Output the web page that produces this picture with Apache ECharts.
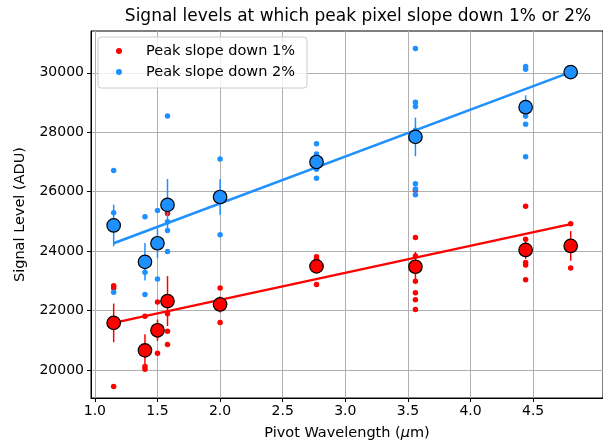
<!DOCTYPE html>
<html>
<head>
<meta charset="utf-8">
<script src="https://cdn.jsdelivr.net/npm/echarts@6/dist/echarts.min.js"></script>
<style>
  html, body { margin: 0; padding: 0; background: #fff; }
  #chart { width: 603px; height: 446px; }
</style>
</head>
<body>
<div id="chart"></div>
<script>
// Pivot wavelengths of the filters (µm)
const wavelengths = [1.15, 1.40, 1.50, 1.58, 2.00, 2.77, 3.56, 4.44, 4.80];

// Individual signal levels (ADU) where the peak pixel slope is down 1%
const down1Samples = [
  [22840, 22760, 19450],
  [21810, 20120, 20030],
  [22290, 21170, 20567],
  [25267, 21900, 21310, 20867],
  [22767, 22240, 21600],
  [23810, 23733, 22877],
  [26050, 24457, 23843, 22990, 22600, 22367, 22043],
  [25510, 24400, 23623, 23533, 23043],
  [24923, 23433]
];
const down1Mean = [21590, 20667, 21343, 22323, 22210, 23490, 23477, 24043, 24177];
const down1Err  = [650, 540, 360, 840, 270, 200, 500, 300, 500];

// Individual signal levels (ADU) where the peak pixel slope is down 2%
const down2Samples = [
  [26710, 25290, 22620],
  [25157, 23290, 22543],
  [25367, 24370, 23067],
  [28543, 24990, 24700, 23990],
  [27100, 25830, 24557],
  [27610, 27267, 26757, 26457],
  [30820, 29010, 28870, 28070, 26270, 26090, 25900],
  [30210, 30120, 28543, 28267, 27177],
  [30023]
];
const down2Mean = [24867, 23643, 24267, 25557, 25823, 27000, 27843, 28843, 30023];
const down2Err  = [700, 630, 500, 870, 600, 150, 650, 400, 0];

// Linear fits, evaluated at the first and last wavelength
const fitX  = [1.15, 4.80];
const fit1Y = [21590, 24910];
const fit2Y = [24267, 30023];

// Tick values
const xTicks = [1.0, 1.5, 2.0, 2.5, 3.0, 3.5, 4.0, 4.5];
const yTicks = [20000, 22000, 24000, 26000, 28000, 30000];

const RED = '#ff0000';
const BLUE = '#1e90ff';
const FONT = 'DejaVu Sans';

function samplePairs(samples) {
  const out = [];
  samples.forEach((vals, i) => vals.forEach(v => out.push([wavelengths[i], v])));
  return out;
}
function meanPairs(means, errs) {
  return means.map((m, i) => [wavelengths[i], m, errs[i]]);
}
function errorBarSeries(means, errs, color, z) {
  return {
    type: 'custom',
    z: z,
    data: meanPairs(means, errs),
    renderItem: function (params, api) {
      const x = api.value(0), m = api.value(1), e = api.value(2);
      const p1 = api.coord([x, m - e]);
      const p2 = api.coord([x, m + e]);
      return {
        type: 'line',
        shape: { x1: p1[0], y1: p1[1], x2: p2[0], y2: p2[1] },
        style: { stroke: color, lineWidth: 1.5 }
      };
    }
  };
}

const chart = echarts.init(document.getElementById('chart'), null, { renderer: 'canvas' });

chart.setOption({
  animation: false,
  backgroundColor: '#ffffff',
  grid: {
    left: 91, top: 31, width: 528, height: 369,
    show: true, borderColor: '#000', borderWidth: 1, backgroundColor: 'transparent'
  },
  xAxis: {
    type: 'value',
    min: 0.969, max: 5.058,
    name: '{a|Pivot Wavelength (}{i|μ}{a|m)}',
    nameLocation: 'middle',
    nameGap: 28,
    nameTextStyle: {
      rich: {
        a: { fontFamily: FONT, fontSize: 14.5, color: '#000' },
        i: { fontFamily: FONT, fontSize: 14.5, color: '#000', fontStyle: 'italic' }
      }
    },
    axisLine: { show: true, onZero: false, lineStyle: { color: '#000', width: 1 } },
    axisTick: { show: true, length: 4, customValues: xTicks, lineStyle: { color: '#000' } },
    axisLabel: {
      customValues: xTicks, margin: 6,
      formatter: v => Number(v).toFixed(1),
      fontFamily: FONT, fontSize: 14, color: '#000'
    },
    splitLine: { show: true, lineStyle: { color: '#b0b0b0', width: 1 } }
  },
  yAxis: {
    type: 'value',
    min: 19064, max: 31405,
    name: 'Signal Level (ADU)',
    nameLocation: 'middle',
    nameGap: 63,
    nameTextStyle: { fontFamily: FONT, fontSize: 14.5, color: '#000' },
    axisLine: { show: true, onZero: false, lineStyle: { color: '#000', width: 1 } },
    axisTick: { show: true, length: 4, customValues: yTicks, lineStyle: { color: '#000' } },
    axisLabel: {
      customValues: yTicks, margin: 7,
      formatter: v => String(v),
      fontFamily: FONT, fontSize: 14, color: '#000'
    },
    splitLine: { show: true, lineStyle: { color: '#b0b0b0', width: 1 } }
  },
  graphic: [
    {
      type: 'text', x: 358, y: 17, z: 100,
      style: {
        text: 'Signal levels at which peak pixel slope down 1% or 2%',
        fontFamily: FONT, fontSize: 17, fill: '#000',
        align: 'center', verticalAlign: 'middle'
      }
    },
    {
      type: 'rect', z: 100,
      shape: { x: 98, y: 37, width: 209, height: 51, r: 3 },
      style: { fill: 'rgba(255,255,255,0.8)', stroke: '#cccccc', lineWidth: 1 }
    },
    {
      type: 'circle', z: 101,
      shape: { cx: 119, cy: 51, r: 3 },
      style: { fill: RED }
    },
    {
      type: 'text', z: 101, x: 146, y: 51,
      style: {
        text: 'Peak slope down 1%', fontFamily: FONT, fontSize: 14.5, fill: '#000',
        align: 'left', verticalAlign: 'middle'
      }
    },
    {
      type: 'circle', z: 101,
      shape: { cx: 119, cy: 72, r: 3 },
      style: { fill: BLUE }
    },
    {
      type: 'text', z: 101, x: 146, y: 72,
      style: {
        text: 'Peak slope down 2%', fontFamily: FONT, fontSize: 14.5, fill: '#000',
        align: 'left', verticalAlign: 'middle'
      }
    }
  ],
  series: [
    {
      name: 'Peak slope down 1%', type: 'scatter', z: 2,
      symbol: 'circle', symbolSize: 5.5,
      itemStyle: { color: RED, opacity: 1 },
      data: samplePairs(down1Samples)
    },
    {
      name: 'Peak slope down 2%', type: 'scatter', z: 3,
      symbol: 'circle', symbolSize: 5.5,
      itemStyle: { color: BLUE, opacity: 1 },
      data: samplePairs(down2Samples)
    },
    {
      type: 'line', z: 4, showSymbol: false, symbol: 'none',
      lineStyle: { color: RED, width: 2.5 },
      data: fitX.map((x, i) => [x, fit1Y[i]])
    },
    {
      type: 'line', z: 4, showSymbol: false, symbol: 'none',
      lineStyle: { color: BLUE, width: 2.5 },
      data: fitX.map((x, i) => [x, fit2Y[i]])
    },
    errorBarSeries(down1Mean, down1Err, RED, 5),
    errorBarSeries(down2Mean, down2Err, BLUE, 5),
    {
      type: 'scatter', z: 6,
      symbol: 'circle', symbolSize: 13.5,
      itemStyle: { color: RED, borderColor: '#000', borderWidth: 1.2, opacity: 1 },
      data: meanPairs(down1Mean, down1Err).map(p => [p[0], p[1]])
    },
    {
      type: 'scatter', z: 6,
      symbol: 'circle', symbolSize: 13.5,
      itemStyle: { color: BLUE, borderColor: '#000', borderWidth: 1.2, opacity: 1 },
      data: meanPairs(down2Mean, down2Err).map(p => [p[0], p[1]])
    }
  ]
});
</script>
</body>
</html>
